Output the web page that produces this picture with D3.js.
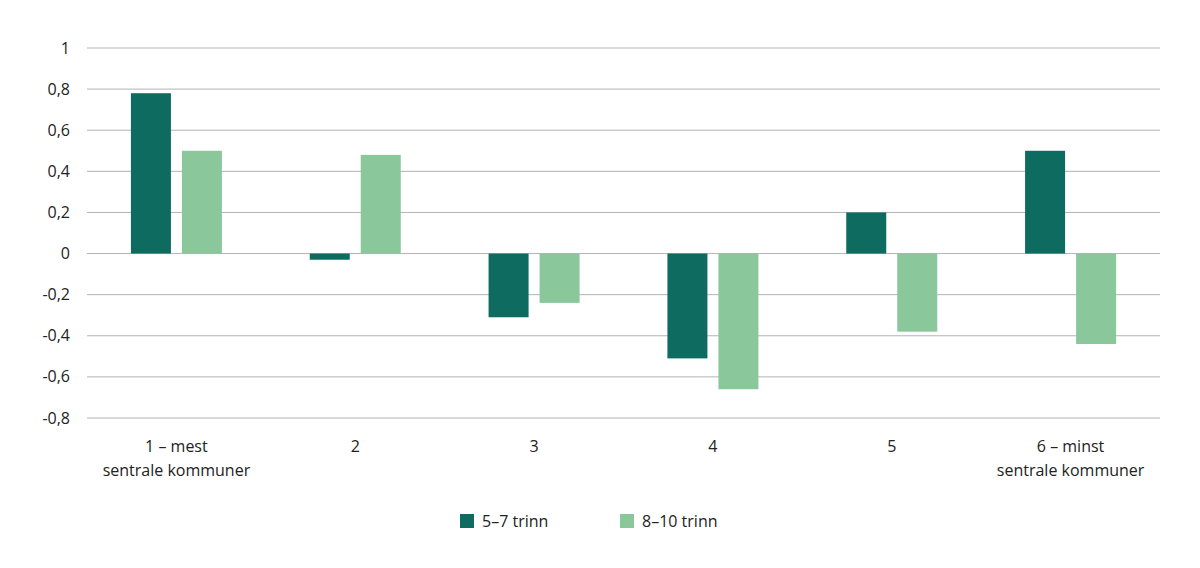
<!DOCTYPE html>
<html><head><meta charset="utf-8">
<script src="https://cdn.jsdelivr.net/npm/d3@7"></script>
<style>body{margin:0;background:#fff;font-family:"Open Sans",sans-serif;}</style>
</head><body><svg class="chart"></svg>
<script>
const categories = [["1 – mest", "sentrale kommuner"], ["2"], ["3"], ["4"], ["5"], ["6 – minst", "sentrale kommuner"]];
const series = ["5–7 trinn", "8–10 trinn"];
const values57 = [0.78, -0.03, -0.31, -0.51, 0.2, 0.5];
const values810 = [0.5, 0.48, -0.24, -0.66, -0.38, -0.44];
const ticks = [1, 0.8, 0.6, 0.4, 0.2, 0, -0.2, -0.4, -0.6, -0.8];
const colors = ["#0e6b60", "#8ac79b"];

const width = 1200, height = 568;
const svg = d3.select(".chart").attr("width", width).attr("height", height);
const x = d3.scaleBand().domain(d3.range(categories.length)).range([87, 1160]);
const y = d3.scaleLinear().domain([-0.8, 1]).range([418, 48]);
const fmt = d => String(d).replace(".", ",");

svg.append("g").selectAll("line").data(ticks).join("line")
  .attr("x1", 87).attr("x2", 1160)
  .attr("y1", d => y(d)).attr("y2", d => y(d))
  .attr("stroke", "#b3b3b3").attr("stroke-width", 1);

svg.append("g").selectAll("text").data(ticks).join("text")
  .attr("x", 70).attr("y", d => y(d)).attr("dy", "0.35em")
  .attr("text-anchor", "end").attr("font-size", 16).attr("fill", "#222")
  .text(fmt);

const barW = 40, gap = 11;
[values57, values810].forEach((vals, s) => {
  svg.append("g").selectAll("rect").data(vals).join("rect")
    .attr("x", (d, i) => x(i) + x.bandwidth() / 2 - barW - gap / 2 + s * (barW + gap))
    .attr("width", barW)
    .attr("y", d => y(Math.max(0, d)))
    .attr("height", d => Math.abs(y(d) - y(0)))
    .attr("fill", colors[s]);
});

const lab = svg.append("g").selectAll("text").data(categories).join("text")
  .attr("text-anchor", "middle").attr("font-size", 16).attr("fill", "#222")
  .attr("x", (d, i) => x(i) + x.bandwidth() / 2).attr("y", 452);
lab.selectAll("tspan").data(d => d).join("tspan")
  .attr("x", function () { return this.parentNode.getAttribute("x"); })
  .attr("dy", (d, i) => i ? 24 : 0).text(d => d);

const legX = [460, 620];
series.forEach((s, i) => {
  svg.append("rect").attr("x", legX[i]).attr("y", 514).attr("width", 14).attr("height", 14).attr("fill", colors[i]);
  svg.append("text").attr("x", legX[i] + 22).attr("y", 521).attr("dy", "0.35em")
    .attr("font-size", 16).attr("fill", "#222").text(s);
});
</script></body></html>
